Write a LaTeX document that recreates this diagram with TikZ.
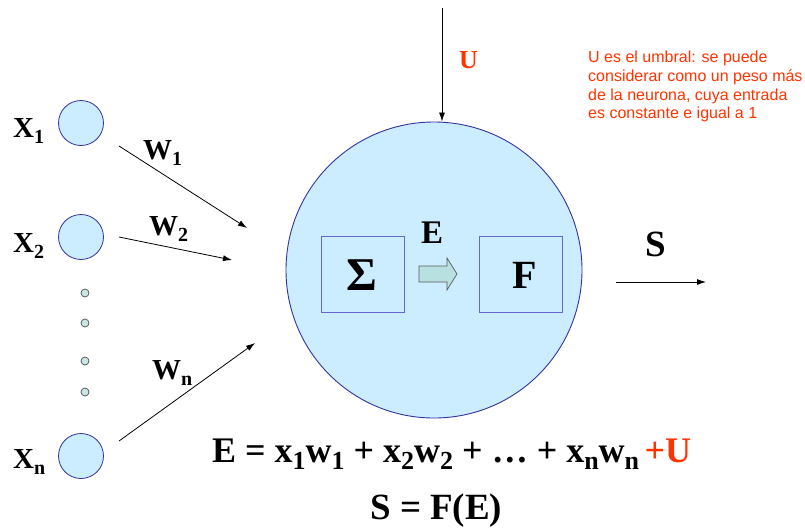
\documentclass[tikz,border=0pt]{standalone}
\usepackage{fontspec}
\setmainfont{Liberation Serif}
\newfontfamily\arialf{Liberation Sans}
\usetikzlibrary{arrows.meta}
\definecolor{neufill}{HTML}{CCECFF}
\definecolor{neuline}{HTML}{3333A0}
\definecolor{boxline}{HTML}{6666CC}
\definecolor{ured}{HTML}{FF3300}
\definecolor{dotfill}{HTML}{C8E6E6}
\definecolor{arrfill}{HTML}{B8E0E0}
\newcommand{\sbx}[1]{\raisebox{-0.22em}{\fontsize{20}{20}\selectfont #1}}
\newcommand{\sbe}[1]{\raisebox{-0.22em}{\fontsize{26}{26}\selectfont #1}}
\begin{document}
\begin{tikzpicture}[x=1pt,y=-1pt,
  every node/.style={inner sep=0pt},
  inp/.style={circle, draw=neuline, fill=neufill, minimum size=45pt, line width=0.8pt},
  dotn/.style={circle, draw=black!70, fill=dotfill, minimum size=8pt, line width=0.7pt},
  lbl/.style={anchor=base west, font=\bfseries\fontsize{29}{29}\selectfont},
  arr/.style={-{Latex[length=9pt,width=6pt]}, line width=0.8pt},
  ibox/.style={draw=boxline, line width=0.9pt, minimum width=83pt, minimum height=76pt},
]
\useasboundingbox (0,0) rectangle (805,531);
% neuron
\node[circle, draw=neuline, fill=neufill, minimum size=296pt, line width=0.9pt] (neuron) at (434,270) {};
% inputs
\node[inp] (x1) at (81,123) {};
\node[inp] (x2) at (81,237) {};
\node[inp] (xn) at (81,456) {};
\node[dotn] (d1) at (85,293) {};
\node[dotn] (d2) at (85,323) {};
\node[dotn] (d3) at (85,361) {};
\node[dotn] (d4) at (85,392) {};
\node[lbl] (lx1) at (13,137) {X\sbx{1}};
\node[lbl] (lx2) at (13,252) {X\sbx{2}};
\node[lbl] (lxn) at (13,468) {X\sbx{n}};
\node[lbl] (lw1) at (143,159) {W\sbx{1}};
\node[lbl] (lw2) at (149,235) {W\sbx{2}};
\node[lbl] (lwn) at (152,379) {W\sbx{n}};
% weight arrows
\coordinate (w1s) at (119,146); \coordinate (w1e) at (247,228);
\coordinate (w2s) at (119,237); \coordinate (w2e) at (232,260);
\coordinate (wns) at (119,441); \coordinate (wne) at (255,343);
\draw[arr] (w1s) -- (w1e);
\draw[arr] (w2s) -- (w2e);
\draw[arr] (wns) -- (wne);
% threshold
\coordinate (ut) at (442,8);
\draw[arr] (ut) -- (ut |- neuron.north);
\node[anchor=base west, text=ured, font=\bfseries\fontsize{26}{26}\selectfont] (ul) at (459,68) {U};
\node[anchor=north west, text=ured, align=left, font=\arialf\fontsize{16}{18.7}\selectfont] (note) at (588,51)
  {U es el umbral: se puede\\considerar como un peso más\\de la neurona, cuya entrada\\es constante e igual a 1};
% inner blocks
\node[ibox] (sig) at (362.5,274) {};
\node[ibox] (fb) at (521,274) {};
\node[anchor=base, font=\bfseries\fontsize{47}{47}\selectfont] (sigt) at (362,290) {Σ};
\node[anchor=base, font=\bfseries\fontsize{40}{40}\selectfont] (ft) at (525,288) {F};
\node[anchor=base west, font=\bfseries\fontsize{33}{33}\selectfont] (et) at (421,243) {E};
\draw[fill=arrfill, draw=black!65, line width=0.7pt] (419,266) -- (447,266) -- (447,258) -- (457,274) -- (447,290) -- (447,282) -- (419,282) -- cycle;
% output
\node[anchor=base west, font=\bfseries\fontsize{37}{37}\selectfont] (st) at (645,256) {S};
\coordinate (ss) at (616,282); \coordinate (se) at (706,282);
\draw[arr] (ss) -- (se);
% equations
\node[anchor=base west, font=\bfseries\fontsize{36}{36}\selectfont] (eq1) at (212,462)
  {E = x\sbe{1}w\sbe{1} + x\sbe{2}w\sbe{2} + … + x\sbe{n}w\sbe{n}\hspace{0.15em}\textcolor{ured}{+U}};
\node[anchor=base west, font=\bfseries\fontsize{37}{37}\selectfont] (eq2) at (370,519) {S = F(E)};
\end{tikzpicture}
\end{document}
